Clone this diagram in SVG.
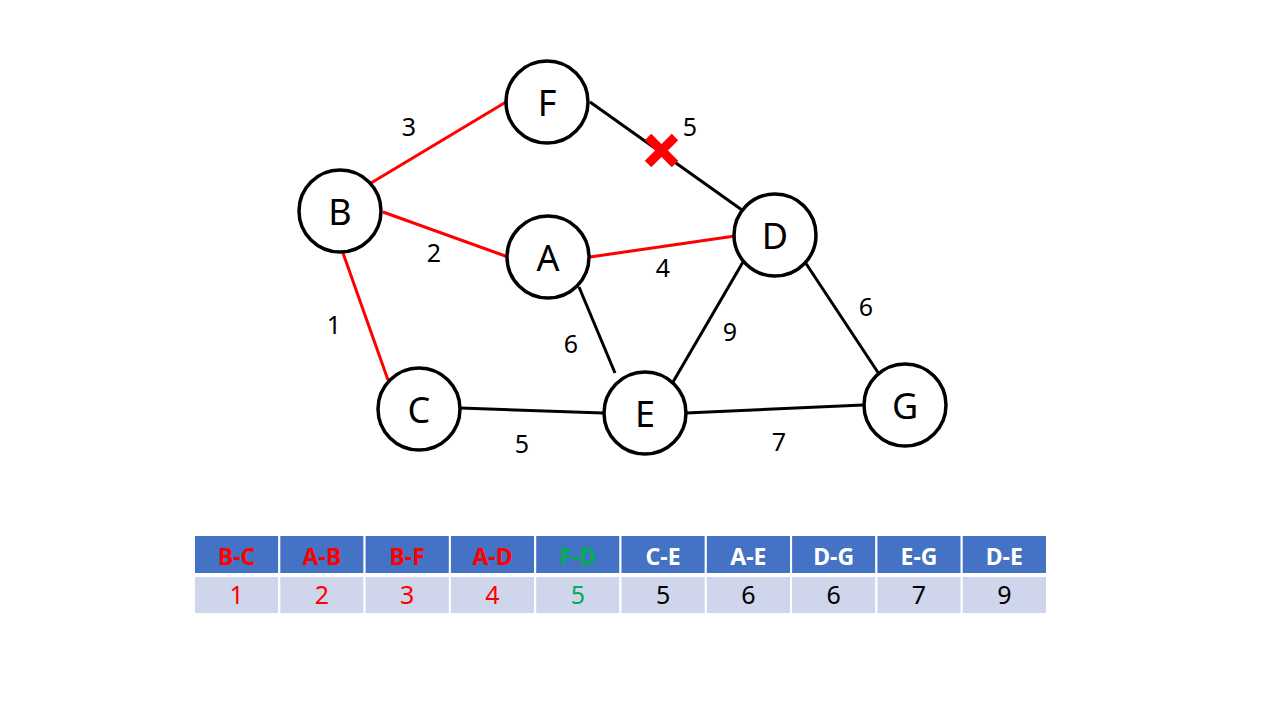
<svg xmlns="http://www.w3.org/2000/svg" width="1280" height="720" viewBox="0 0 1280 720">
<style>
.node circle{fill:#fff;stroke:#000;stroke-width:3.5}
.node text{font-family:"Noto Sans","Open Sans",sans-serif;font-size:36px;text-anchor:middle;dominant-baseline:central}
.e{stroke-width:3;fill:none}
.r{stroke:#ff0000}
.k{stroke:#000}
.lbl{font-family:"Noto Sans","Open Sans",sans-serif;font-size:25px;text-anchor:middle}
.h{fill:#4472c4;stroke:#fff;stroke-width:2}
.c{fill:#cfd5ea;stroke:#fff;stroke-width:2}
.ht{font-family:"Noto Sans","Open Sans",sans-serif;font-size:23px;font-weight:bold;text-anchor:middle;fill:#fff}
.ct{font-family:"Noto Sans","Open Sans",sans-serif;font-size:25px;text-anchor:middle;fill:#000}
.red{fill:#ff0000}
.grn{fill:#00b050}
</style>
<rect width="1280" height="720" fill="#fff"/>
<g id="connectors">
<line class="e r" x1="371" y1="183" x2="506" y2="102"/>
<line class="e r" x1="383" y1="212" x2="508" y2="257"/>
<line class="e r" x1="590" y1="257" x2="735" y2="236"/>
<line class="e r" x1="343" y1="253" x2="388" y2="380"/>
<line class="e k" x1="590" y1="102" x2="742" y2="210"/>
<line class="e k" x1="579" y1="287" x2="615" y2="373"/>
<line class="e k" x1="743" y1="262" x2="673" y2="382"/>
<line class="e k" x1="805" y1="262" x2="879" y2="374"/>
<line class="e k" x1="460" y1="408" x2="603" y2="413"/>
<line class="e k" x1="686" y1="413" x2="863" y2="405"/>
</g>
<g id="cross">
<line x1="648" y1="137" x2="675" y2="164" stroke="#ff0000" stroke-width="9"/>
<line x1="675" y1="137" x2="648" y2="164" stroke="#ff0000" stroke-width="9"/>
</g>
<g id="edge-labels">
<text class="lbl" x="409" y="136">3</text>
<text class="lbl" x="434" y="262">2</text>
<text class="lbl" x="334" y="334">1</text>
<text class="lbl" x="690" y="136">5</text>
<text class="lbl" x="663" y="277">4</text>
<text class="lbl" x="571" y="353">6</text>
<text class="lbl" x="730" y="341">9</text>
<text class="lbl" x="866" y="316">6</text>
<text class="lbl" x="522" y="453">5</text>
<text class="lbl" x="779" y="451">7</text>
</g>
<g id="node-F" class="node"><circle cx="547" cy="102" r="41"/><text x="547" y="102">F</text></g>
<g id="node-B" class="node"><circle cx="340" cy="211" r="41"/><text x="340" y="211">B</text></g>
<g id="node-A" class="node"><circle cx="548" cy="257" r="41"/><text x="548" y="257">A</text></g>
<g id="node-D" class="node"><circle cx="775" cy="235" r="41"/><text x="775" y="235">D</text></g>
<g id="node-C" class="node"><circle cx="419" cy="409" r="41"/><text x="419" y="409">C</text></g>
<g id="node-E" class="node"><circle cx="645" cy="413" r="41"/><text x="645" y="413">E</text></g>
<g id="node-G" class="node"><circle cx="905" cy="405" r="41"/><text x="905" y="405">G</text></g>
<g id="table">
<rect class="h" x="194" y="535" width="85.3" height="39"/>
<rect class="h" x="279.3" y="535" width="85.3" height="39"/>
<rect class="h" x="364.6" y="535" width="85.3" height="39"/>
<rect class="h" x="449.9" y="535" width="85.3" height="39"/>
<rect class="h" x="535.2" y="535" width="85.3" height="39"/>
<rect class="h" x="620.5" y="535" width="85.3" height="39"/>
<rect class="h" x="705.8" y="535" width="85.3" height="39"/>
<rect class="h" x="791.1" y="535" width="85.3" height="39"/>
<rect class="h" x="876.4" y="535" width="85.3" height="39"/>
<rect class="h" x="961.7" y="535" width="85.3" height="39"/>
<rect class="c" x="194" y="576" width="85.3" height="38"/>
<rect class="c" x="279.3" y="576" width="85.3" height="38"/>
<rect class="c" x="364.6" y="576" width="85.3" height="38"/>
<rect class="c" x="449.9" y="576" width="85.3" height="38"/>
<rect class="c" x="535.2" y="576" width="85.3" height="38"/>
<rect class="c" x="620.5" y="576" width="85.3" height="38"/>
<rect class="c" x="705.8" y="576" width="85.3" height="38"/>
<rect class="c" x="791.1" y="576" width="85.3" height="38"/>
<rect class="c" x="876.4" y="576" width="85.3" height="38"/>
<rect class="c" x="961.7" y="576" width="85.3" height="38"/>
<text class="ht red" x="236.6" y="565">B-C</text>
<text class="ht red" x="321.9" y="565">A-B</text>
<text class="ht red" x="407.2" y="565">B-F</text>
<text class="ht red" x="492.5" y="565">A-D</text>
<text class="ht grn" x="577.8" y="565">F-D</text>
<text class="ht" x="663.1" y="565">C-E</text>
<text class="ht" x="748.4" y="565">A-E</text>
<text class="ht" x="833.7" y="565">D-G</text>
<text class="ht" x="919" y="565">E-G</text>
<text class="ht" x="1004.3" y="565">D-E</text>
<text class="ct red" x="236.6" y="604">1</text>
<text class="ct red" x="321.9" y="604">2</text>
<text class="ct red" x="407.2" y="604">3</text>
<text class="ct red" x="492.5" y="604">4</text>
<text class="ct grn" x="577.8" y="604">5</text>
<text class="ct" x="663.1" y="604">5</text>
<text class="ct" x="748.4" y="604">6</text>
<text class="ct" x="833.7" y="604">6</text>
<text class="ct" x="919" y="604">7</text>
<text class="ct" x="1004.3" y="604">9</text>
</g>
</svg>
